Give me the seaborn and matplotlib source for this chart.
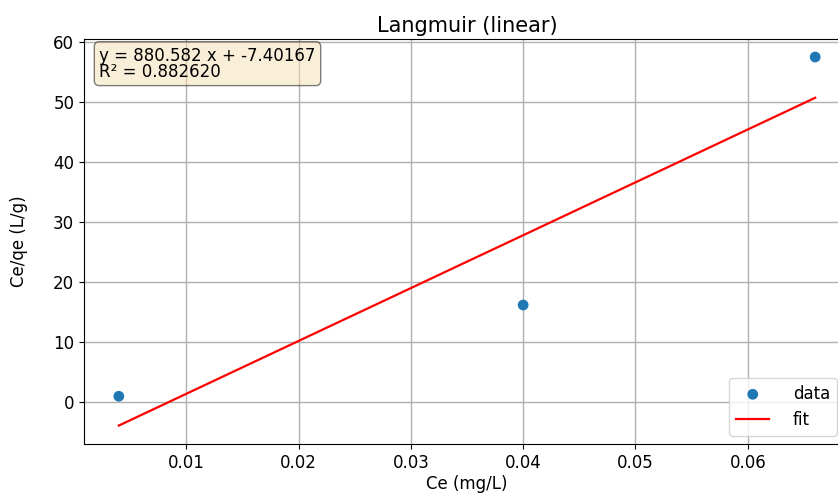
import matplotlib
matplotlib.use("Agg")
import matplotlib.pyplot as plt
import seaborn as sns
import numpy as np
import pandas as pd

# Data
ce = [0.004, 0.040, 0.066]
ce_over_qe = [1.0, 16.2, 57.5]
fit_slope = 880.582
fit_intercept = -7.40167
fit_r2 = 0.882620
fit_x = [0.004, 0.066]

title = "Langmuir (linear)"
xlabel = "Ce (mg/L)"
ylabel = "Ce/qe (L/g)"

plt.rcParams['font.family'] = ['DejaVu Sans']

fig = plt.figure(figsize=(8.38, 4.94), dpi=100)
ax = fig.add_axes([84 / 838, 50 / 494, (850 - 84) / 838, (444 - 38.6) / 494])

df_pts = pd.DataFrame({"x": ce, "y": ce_over_qe})
fx = np.array(fit_x)
df_fit = pd.DataFrame({"x": fx, "y": fit_slope * fx + fit_intercept})

sns.scatterplot(data=df_pts, x="x", y="y", ax=ax, s=60, color="#1f77b4",
                edgecolor="none", label="data", zorder=3)
sns.lineplot(data=df_fit, x="x", y="y", ax=ax, color="red", linewidth=1.6,
             label="fit", zorder=2)

ax.set_xlim(0.0009, 0.0691)
ax.set_ylim(-6.95, 60.57)
ax.set_xticks([0.01, 0.02, 0.03, 0.04, 0.05, 0.06])
ax.set_yticks([0, 10, 20, 30, 40, 50, 60])
ax.grid(True, color="#b0b0b0", linewidth=1.0)
ax.set_axisbelow(True)
ax.tick_params(labelsize=12)

ax.set_title(title, fontsize=15, pad=5)
ax.set_xlabel(xlabel, fontsize=12, labelpad=2)
ax.set_ylabel(ylabel, fontsize=12, labelpad=18)

ax.text(0.02, 0.98, f"y = {fit_slope:.3f} x + {fit_intercept:.5f}\nR² = {fit_r2:.6f}",
        transform=ax.transAxes, va="top", ha="left", fontsize=12, linespacing=0.85,
        bbox=dict(boxstyle="round", facecolor="wheat", alpha=0.5))

ax.legend(loc="lower right", fontsize=12, bbox_to_anchor=(1.0 - 5 / 766, 0.0),
          handletextpad=1.4)

fig.savefig("out.png", dpi=100)
